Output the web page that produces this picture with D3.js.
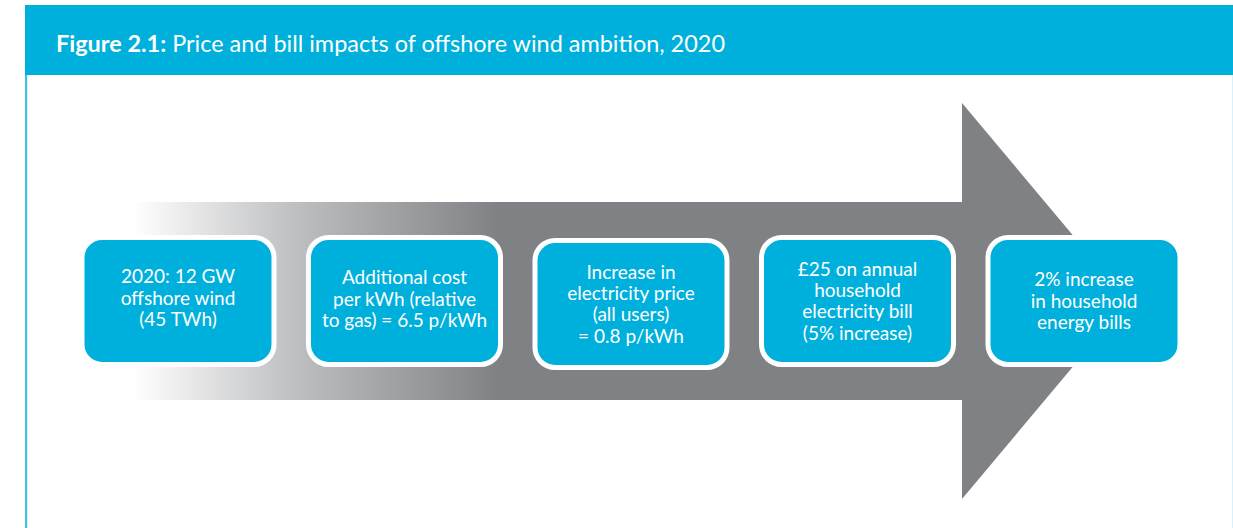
<!DOCTYPE html>
<html><head><meta charset="utf-8">
<script src="https://cdn.jsdelivr.net/npm/d3@7"></script>
<style>html,body{margin:0;padding:0;background:#fff;}svg{display:block;}</style>
</head><body>
<script>
const titleBold = "Figure 2.1:";
const titleRest = " Price and bill impacts of offshore wind ambition, 2020";
const steps = ["step1","step2","step3","step4","step5"];
const stepLines = [
  ["2020: 12 GW","offshore wind","(45 TWh)"],
  ["Additional cost","per kWh (relative","to gas) = 6.5 p/kWh"],
  ["Increase in","electricity price","(all users)","= 0.8 p/kWh"],
  ["£25 on annual","household","electricity bill","(5% increase)"],
  ["2% increase","in household","energy bills"]
];

const W = 1233, H = 528;
const cyan = "#00b0dc", gray = "#808184";
const svg = d3.select("body").append("svg").attr("width", W).attr("height", H);
const defs = svg.append("defs");
const grad = defs.append("linearGradient").attr("id","shaftGrad")
  .attr("gradientUnits","userSpaceOnUse").attr("x1",133).attr("x2",500).attr("y1",0).attr("y2",0);
grad.append("stop").attr("offset","0%").attr("stop-color","#ffffff");
grad.append("stop").attr("offset","45%").attr("stop-color","#bdbec0");
grad.append("stop").attr("offset","100%").attr("stop-color",gray);

// frame
svg.append("rect").attr("x",25).attr("y",5).attr("width",W-25).attr("height",70).attr("fill",cyan);
svg.append("rect").attr("x",25).attr("y",75).attr("width",2.2).attr("height",H-75).attr("fill","#3cc0e6");
svg.append("rect").attr("x",1232).attr("y",75).attr("width",1).attr("height",H-75).attr("fill","#d8f3fb");

// title
const title = svg.append("text").attr("x",56).attr("y",52)
  .attr("fill","#fff").style("font-family","Lato, 'Open Sans', sans-serif").style("font-size","23px");
title.append("tspan").style("font-weight","bold").text(titleBold);
title.append("tspan").text(titleRest);
const tl = title.node().getComputedTextLength();
title.style("font-size", (23*669/tl).toFixed(2)+"px");

// arrow
const shaftX0 = 133, headX = 962, tipX = 1128, yMid = 301, shaftHalf = 99, headHalf = 198;
svg.append("rect").attr("x",shaftX0).attr("y",yMid-shaftHalf).attr("width",headX-shaftX0+1)
  .attr("height",shaftHalf*2).attr("fill","url(#shaftGrad)");
svg.append("path").attr("d", d3.line()([[headX,yMid-headHalf],[tipX,yMid],[headX,yMid+headHalf]]) + "Z")
  .attr("fill",gray);

// boxes
const x = d3.scalePoint().domain(steps).range([178,1084]);
const boxW = 192, boxH = 127, yOff = [0,0,3,0,0], textShift = [-3,-2,0,0,0];
const g = svg.selectAll("g.step").data(steps).join("g").attr("class","step")
  .attr("transform",(d,i)=>`translate(${x(d)},${yMid + yOff[i]})`);
g.append("rect").attr("x",-boxW/2).attr("y",-boxH/2).attr("width",boxW).attr("height",boxH)
  .attr("rx",20).attr("ry",20).attr("fill",cyan).attr("stroke","#fff").attr("stroke-width",5);
const lh = 21.3;
g.each(function(d,i){
  const lines = stepLines[i];
  const t = d3.select(this).append("text").attr("text-anchor","middle").attr("fill","#fff")
    .style("font-family","Lato, 'Open Sans', sans-serif").style("font-size","19px");
  lines.forEach((s,k)=>{
    t.append("tspan").attr("x",0)
      .attr("y", textShift[i] + (k-(lines.length-1)/2)*lh + 6.7).text(s);
  });
});
</script>
</body></html>
